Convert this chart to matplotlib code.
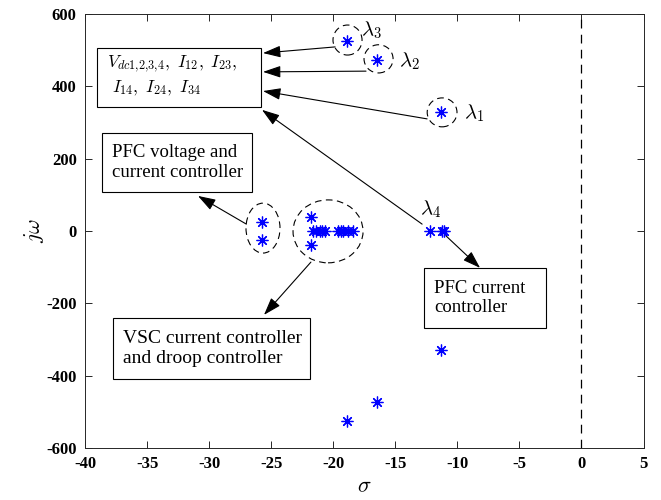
import numpy as np
import matplotlib
matplotlib.use("Agg")
import matplotlib.pyplot as plt
from matplotlib.patches import Ellipse, Rectangle

plt.rcParams['font.family'] = ['Liberation Serif', 'DejaVu Serif']
plt.rcParams['mathtext.fontset'] = 'cm'
plt.rcParams['axes.unicode_minus'] = False

# eigenvalues
sigma = [-18.9, -18.9, -16.5, -16.5, -11.3, -11.3,
         -12.2, -11.2, -11.1,
         -25.7, -25.7,
         -21.8, -21.8, -21.6, -21.4, -21.1, -20.9, -20.7,
         -19.6, -19.4, -19.2, -18.8, -18.4]
omega = [525, -525, 473, -473, 330, -330,
         0, 0, 0,
         24, -26,
         40, -39, 0, 0, 0, 0, 0,
         0, 0, 0, 0, 0]

xticks = [-40, -35, -30, -25, -20, -15, -10, -5, 0, 5]
yticks = [-600, -400, -200, 0, 200, 400, 600]

fig = plt.figure(figsize=(6.61, 5.0), dpi=100)
ax = fig.add_axes([0.1286, 0.104, 0.845, 0.868])

ax.axvline(0, color='black', ls=(0, (7, 5)), lw=0.9)
ax.plot(sigma, omega, ls='none', marker=(8, 2, 0), ms=8.5, mew=0.9,
        color='blue')

ax.set_xlim(-40, 5)
ax.set_ylim(-600, 600)
ax.set_xticks(xticks)
ax.set_yticks(yticks)
ax.tick_params(direction='in', top=True, right=True, length=5,
               width=0.7, labelsize=12, colors='0.15',
               labelcolor='black', pad=6)
for lab in ax.get_xticklabels() + ax.get_yticklabels():
    lab.set_fontweight('bold')
for s in ax.spines.values():
    s.set_color('0.15')
    s.set_linewidth(0.7)
ax.set_xlabel(r'$\sigma$', fontsize=16, labelpad=4)
ax.set_ylabel(r'$j\omega$', fontsize=16, labelpad=0)

# dashed circles round the groups
circles = [(-18.85, 528, 2.34, 83), (-16.35, 476, 2.34, 78),
           (-11.23, 328, 2.4, 80), (-25.66, 8, 2.74, 138),
           (-20.42, -1, 5.64, 174)]
for cx, cy, w, h in circles:
    ax.add_patch(Ellipse((cx, cy), w, h, fill=False, ls=(0, (6, 4)),
                         lw=0.8, color='black'))

# text boxes
boxes = [(-39.03, 343, 13.21, 163), (-38.63, 108, 12.09, 163),
         (-37.74, -409, 15.87, 168.5), (-12.68, -268, 9.83, 166)]
for bx, by, bw, bh in boxes:
    ax.add_patch(Rectangle((bx, by), bw, bh, fill=True, fc='white',
                           ec='black', lw=0.8, zorder=3))

ax.text(-38.2, 430,
        r'$V_{dc1{,}2{,}3{,}4},\ I_{12},\ I_{23},$' + '\n' +
        r'$\ I_{14},\ I_{24},\ I_{34}$',
        fontsize=12.5, va='center', ha='left', zorder=4, linespacing=1.3)
ax.text(-37.8, 190, 'PFC voltage and\ncurrent controller',
        fontsize=13.5, va='center', ha='left', zorder=4, linespacing=1.2)
ax.text(-36.9, -325, 'VSC current controller\nand droop controller',
        fontsize=14, va='center', ha='left', zorder=4, linespacing=1.2)
ax.text(-11.9, -185, 'PFC current\ncontroller',
        fontsize=13.5, va='center', ha='left', zorder=4, linespacing=1.2)

# eigenvalue labels
for txt, lx, ly in [(r'$\lambda_3$', -16.95, 556), (r'$\lambda_2$', -13.9, 470),
                    (r'$\lambda_1$', -8.65, 326), (r'$\lambda_4$', -12.2, 61)]:
    ax.text(lx, ly, txt, fontsize=15, ha='center', va='center')

arrows = [((-19.85, 509), (-25.66, 492)),
          ((-17.36, 442), (-25.66, 440)),
          ((-12.44, 310), (-25.66, 387)),
          ((-12.84, 19), (-25.74, 335)),
          ((-10.9, -14), (-8.17, -102)),
          ((-27.0, 19), (-30.9, 97)),
          ((-21.8, -86), (-25.58, -232))]
for start, end in arrows:
    ax.annotate('', xy=end, xytext=start,
                arrowprops=dict(arrowstyle='-|>,head_length=0.9,head_width=0.3',
                                color='black', lw=0.8, shrinkA=0, shrinkB=0,
                                mutation_scale=12))

fig.savefig('out.png', dpi=100)
